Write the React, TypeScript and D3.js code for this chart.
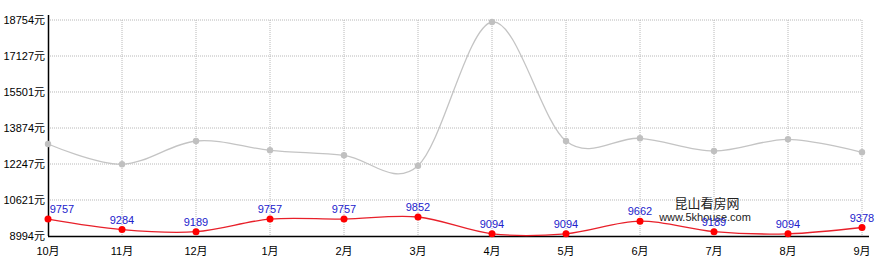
import React from "react";
import * as d3 from "d3";

const months = ["10月", "11月", "12月", "1月", "2月", "3月", "4月", "5月", "6月", "7月", "8月", "9月"];
const redValues = [9757, 9284, 9189, 9757, 9757, 9852, 9094, 9094, 9662, 9189, 9094, 9378];
const grayValues = [13151, 12234, 13287, 12866, 12640, 12171, 18664, 13287, 13408, 12835, 13363, 12776];
const yTicks = [8994, 10621, 12247, 13874, 15501, 17127, 18754];

const W = 892;
const H = 270;
const left = 48;
const right = 862;
const top = 20;
const bottom = 236;

export default function App() {
  const x = d3.scalePoint<string>().domain(months).range([left, right]);
  const y = d3.scaleLinear().domain([8994, 18754]).range([bottom, top]);
  const line = d3
    .line<number>()
    .x((_, i) => x(months[i]) as number)
    .y((d) => y(d))
    .curve(d3.curveCardinal.tension(0));
  const font = "'Liberation Sans', Arial, 'Noto Sans CJK SC', sans-serif";
  return (
    <svg
      width={W}
      height={H}
      style={{ position: "absolute", left: 0, top: 0, background: "#fff" }}
      fontFamily={font}
    >
      {yTicks.map((t) => (
        <g key={t}>
          {t !== 8994 && (
            <line x1={left} x2={right} y1={y(t)} y2={y(t)} stroke="#b8b8b8" strokeDasharray="1,1" />
          )}
          <text x={45} y={y(t) + 4} textAnchor="end" fontSize={11} fill="#000">
            {t}元
          </text>
        </g>
      ))}
      {months.map((m, i) => (
        <g key={m}>
          {i > 0 && (
            <line x1={x(m)} x2={x(m)} y1={top} y2={bottom} stroke="#b8b8b8" strokeDasharray="1,1" />
          )}
          <text x={x(m)} y={255} textAnchor="middle" fontSize={11} fill="#000">
            {m}
          </text>
        </g>
      ))}
      <line x1={left + 0.5} x2={left + 0.5} y1={15} y2={bottom} stroke="#000" strokeWidth={1.5} />
      <line x1={left} x2={869} y1={bottom + 0.5} y2={bottom + 0.5} stroke="#000" strokeWidth={1.5} />

      <text x={707} y={208} textAnchor="middle" fontSize={13} fill="#222">
        昆山看房网
      </text>
      <text x={705} y={221} textAnchor="middle" fontSize={11} fill="#222">
        www.5khouse.com
      </text>

      <path d={line(grayValues) || ""} fill="none" stroke="#c4c4c4" strokeWidth={1.3} />
      {grayValues.map((v, i) => (
        <circle key={i} cx={x(months[i])} cy={y(v)} r={3.2} fill="#c0c0c0" />
      ))}
      <path d={line(redValues) || ""} fill="none" stroke="#e8202a" strokeWidth={1.3} />
      {redValues.map((v, i) => (
        <circle key={i} cx={x(months[i])} cy={y(v)} r={3.5} fill="#ff0000" />
      ))}
      {redValues.map((v, i) => (
        <text
          key={i}
          x={i === 0 ? (x(months[i]) as number) + 14 : x(months[i])}
          y={y(v) - 6}
          textAnchor="middle"
          fontSize={11}
          fill="#2222cc"
        >
          {v}
        </text>
      ))}
    </svg>
  );
}
